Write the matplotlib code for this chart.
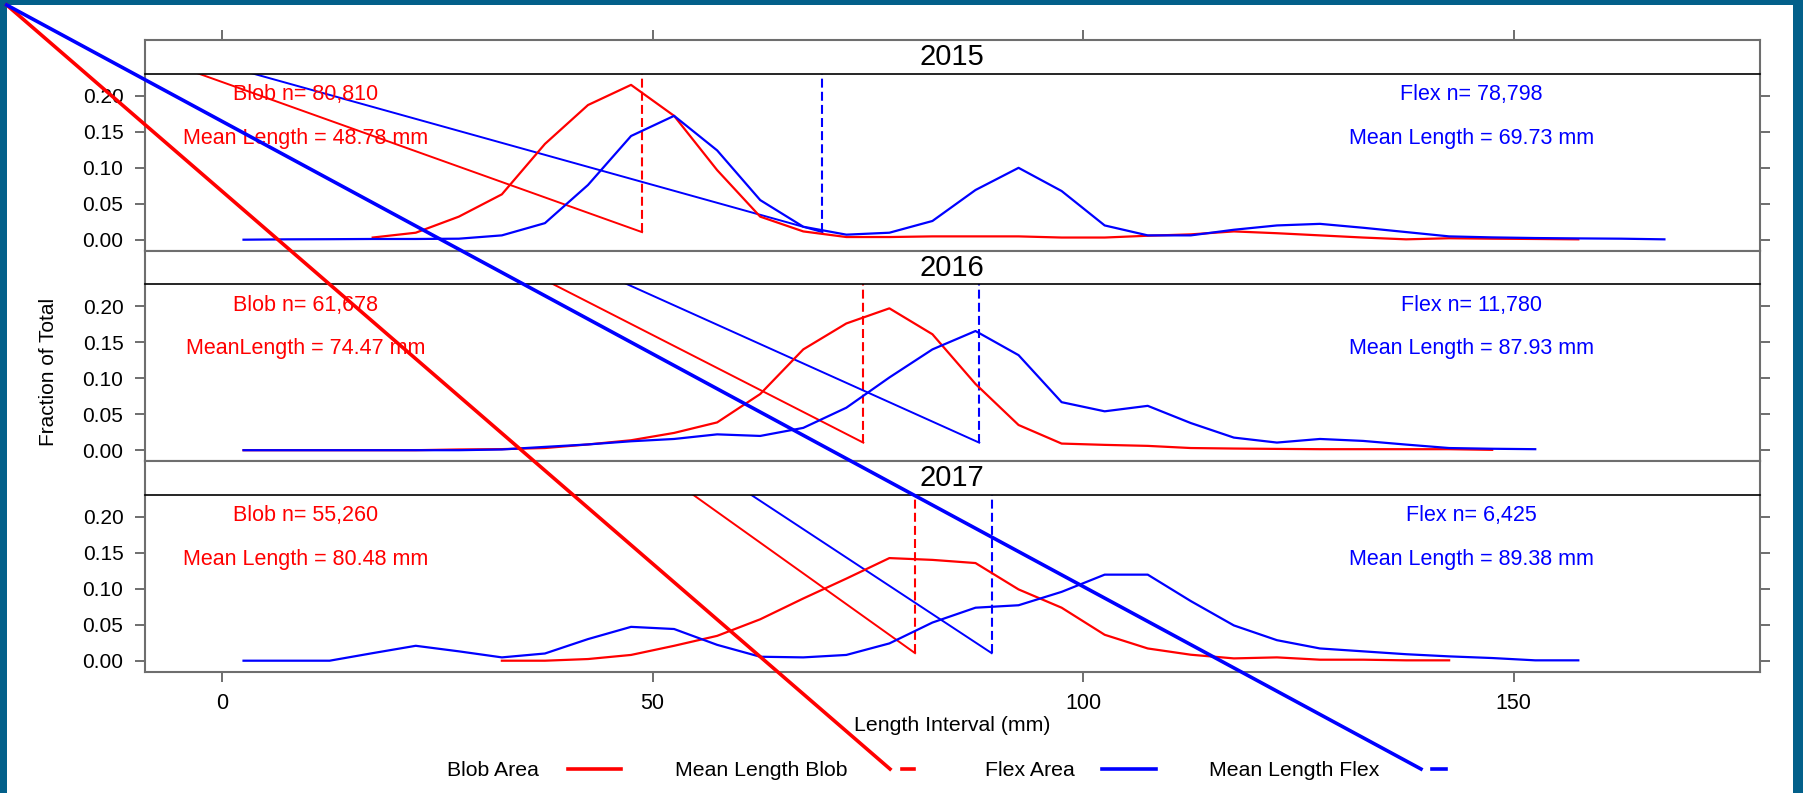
import matplotlib
matplotlib.use("Agg")
import matplotlib.pyplot as plt
from matplotlib.lines import Line2D
from matplotlib.patches import Rectangle
import numpy as np

plt.rcParams['font.family'] = ['Liberation Sans', 'DejaVu Sans']

# length-interval midpoints (mm)
bins = np.arange(2.5, 170, 5)

years = ['2015', '2016', '2017']

# fraction of total per 5 mm interval, first value sits at the given start midpoint
blob_start = [17.5, 2.5, 32.5]
blob_2015 = [0.003, 0.0097, 0.032, 0.063, 0.133, 0.187, 0.215, 0.172, 0.0966, 0.032,
             0.0115, 0.0037, 0.0037, 0.0046, 0.0046, 0.0046, 0.003, 0.003, 0.0055, 0.0074,
             0.0115, 0.009, 0.006, 0.003, 0.0005, 0.002, 0.0014, 0.001, 0.0005]
blob_2016 = [0, 0, 0, 0, 0, 0.001, 0.0015, 0.003, 0.008, 0.0138,
             0.024, 0.0386, 0.078, 0.14, 0.176, 0.197, 0.161, 0.092, 0.035, 0.0092,
             0.0074, 0.006, 0.003, 0.0023, 0.0018, 0.0014, 0.0014, 0.0014, 0.0014, 0.0005]
blob_2017 = [0, 0, 0.0023, 0.008, 0.0207, 0.0345, 0.0575, 0.0864, 0.114, 0.1425,
             0.140, 0.1356, 0.099, 0.0736, 0.036, 0.017, 0.0083, 0.0032, 0.0046, 0.0014,
             0.0014, 0.0005, 0.0005]

flex_start = [2.5, 2.5, 2.5]
flex_2015 = [0, 0.0005, 0.0007, 0.001, 0.001, 0.0014, 0.006, 0.023, 0.076, 0.144,
             0.172, 0.124, 0.055, 0.018, 0.007, 0.0097, 0.026, 0.069, 0.0998, 0.0676,
             0.0198, 0.006, 0.006, 0.0138, 0.0198, 0.022, 0.0166, 0.0106, 0.0046, 0.0032,
             0.0023, 0.0018, 0.0014, 0.0005]
flex_2016 = [0, 0, 0, 0, 0, 0, 0.001, 0.0046, 0.008, 0.0124,
             0.0156, 0.022, 0.0198, 0.031, 0.059, 0.101, 0.14, 0.1655, 0.132, 0.0667,
             0.054, 0.0616, 0.0377, 0.0175, 0.0106, 0.0156, 0.0129, 0.0078, 0.003, 0.002,
             0.0014]
flex_2017 = [0, 0, 0, 0.0105, 0.0207, 0.013, 0.0046, 0.010, 0.030, 0.047,
             0.044, 0.022, 0.0055, 0.0046, 0.008, 0.024, 0.053, 0.0736, 0.077, 0.0956,
             0.1195, 0.1195, 0.0828, 0.049, 0.0285, 0.017, 0.013, 0.009, 0.006, 0.0037,
             0.0005, 0.0005]

blob_series = [blob_2015, blob_2016, blob_2017]
flex_series = [flex_2015, flex_2016, flex_2017]

blob_mean = [48.78, 74.47, 80.48]
flex_mean = [69.73, 87.93, 89.38]
blob_n = ['80,810', '61,678', '55,260']
flex_n = ['78,798', '11,780', '6,425']
blob_mean_label = ['Mean Length = 48.78 mm', 'MeanLength = 74.47 mm', 'Mean Length = 80.48 mm']
flex_mean_label = ['Mean Length = 69.73 mm', 'Mean Length = 87.93 mm', 'Mean Length = 89.38 mm']

legend_labels = ['Blob Area', 'Mean Length Blob', 'Flex Area', 'Mean Length Flex']

MEAN_BASE = 0.0105   # lower end of the mean-length marker
XLIM = (-9.0, 178.6)
YLIM = (-0.015, 0.2308)

# page geometry in pixels (origin top-left)
W, H = 1803, 793
X0, X1 = 144.5, 1760
BLOCK_TOP, BLOCK_H, STRIP_H = 40, 210.5, 33.5
CORNER = (6.7, 5)
FRAME = '#6e6e6e'
TICK = '#555555'


def fig_box(x0, top, x1, bottom):
    return [x0 / W, 1 - bottom / H, (x1 - x0) / W, (bottom - top) / H]


def fig_pt(x, y):
    return x / W, 1 - y / H


fig = plt.figure(figsize=(W / 100, H / 100), dpi=100, facecolor='#03608a')
fig.add_artist(Rectangle((CORNER[0] / W, 0), (1793 - CORNER[0]) / W, 1 - CORNER[1] / H,
                         transform=fig.transFigure, facecolor='white', edgecolor='none', zorder=-5))

for i, year in enumerate(years):
    top = BLOCK_TOP + i * BLOCK_H
    strip = fig.add_axes(fig_box(X0, top, X1, top + STRIP_H))
    ax = fig.add_axes(fig_box(X0, top + STRIP_H, X1, top + BLOCK_H))

    # strip with the year
    strip.set_xlim(XLIM)
    strip.set_ylim(0, 1)
    strip.set_yticks([])
    strip.text(0.5, 0.48, year, transform=strip.transAxes, ha='center', va='center', fontsize=21)
    for side, sp in strip.spines.items():
        sp.set_color(FRAME)
        sp.set_linewidth(1.5)
    strip.spines['bottom'].set_visible(False)
    if i == 0:
        strip.set_xticks([0, 50, 100, 150])
        strip.tick_params(axis='x', top=True, bottom=False, labeltop=False, labelbottom=False,
                          direction='out', length=7.2, width=1.2, color=TICK)
    else:
        strip.set_xticks([])

    # distributions
    ax.set_xlim(XLIM)
    ax.set_ylim(YLIM)

    xb = bins[(bins >= blob_start[i])][:len(blob_series[i])]
    xf = bins[(bins >= flex_start[i])][:len(flex_series[i])]

    ax.plot([blob_mean[i], blob_mean[i]], [MEAN_BASE, 0.3], color='red', lw=1.5,
            linestyle=(0, (4.3, 2)))
    ax.plot([flex_mean[i], flex_mean[i]], [MEAN_BASE, 0.3], color='blue', lw=1.5,
            linestyle=(0, (4.3, 2)))

    # stray segments from the device corner to the marker bases
    corner = ax.transData.inverted().transform((CORNER[0], H - CORNER[1]))
    ax.plot([corner[0], blob_mean[i]], [corner[1], MEAN_BASE], color='red', lw=1.4)
    ax.plot([corner[0], flex_mean[i]], [corner[1], MEAN_BASE], color='blue', lw=1.4)

    ax.plot(xb, blob_series[i], color='red', lw=1.6)
    ax.plot(xf, flex_series[i], color='blue', lw=1.6)

    ax.text(9.7, 0.1935, 'Blob n= ' + blob_n[i], color='red', ha='center', va='baseline', fontsize=15.5)
    ax.text(9.7, 0.1333, blob_mean_label[i], color='red', ha='center', va='baseline', fontsize=15.5)
    ax.text(145.1, 0.1935, 'Flex n= ' + flex_n[i], color='blue', ha='center', va='baseline', fontsize=15.5)
    ax.text(145.1, 0.1333, flex_mean_label[i], color='blue', ha='center', va='baseline', fontsize=15.5)

    ax.set_yticks([0, 0.05, 0.10, 0.15, 0.20])
    ax.set_yticklabels(['0.00', '0.05', '0.10', '0.15', '0.20'])
    ax.tick_params(axis='y', left=True, right=True, labelleft=True, labelright=False,
                   direction='out', length=7.2, width=1.2, color=TICK, labelsize=15, pad=8)
    if i == len(years) - 1:
        ax.set_xticks([0, 50, 100, 150])
        ax.set_xticklabels(['0', '50', '100', '150'])
        ax.tick_params(axis='x', bottom=True, top=False, direction='out', length=7.2, width=1.2,
                       color=TICK, labelsize=15.5, pad=8)
    else:
        ax.set_xticks([])
    for side, sp in ax.spines.items():
        sp.set_color(FRAME)
        sp.set_linewidth(1.5)
    ax.spines['top'].set_color('black')
    ax.spines['top'].set_linewidth(1.2)

fig.text(48.5 / W, 1 - 372 / H, 'Fraction of Total', rotation=90, ha='center', va='center', fontsize=15)
fig.text(952 / W, 1 - 725.5 / H, 'Length Interval (mm)', ha='center', va='center', fontsize=15.3)

# legend row
leg_y = 769
for label, x in zip(legend_labels, [447, 675, 985, 1209]):
    fig.text(x / W, 1 - 771 / H, label, ha='left', va='center', fontsize=15.3)
for color, (a, b) in [('red', (568, 621)), ('blue', (1102, 1156))]:
    fig.add_artist(Line2D([a / W, b / W], [1 - leg_y / H] * 2, transform=fig.transFigure,
                          color=color, lw=2.6))
for color, (a, b) in [('red', (902, 914)), ('blue', (1432, 1446))]:
    fig.add_artist(Line2D([a / W, b / W], [1 - leg_y / H] * 2, transform=fig.transFigure,
                          color=color, lw=2.6))
# dashed keys start with a segment drawn from the device corner
for color, end in [('red', 890), ('blue', 1421)]:
    p0 = fig_pt(*CORNER)
    p1 = fig_pt(end, leg_y)
    fig.add_artist(Line2D([p0[0], p1[0]], [p0[1], p1[1]], transform=fig.transFigure,
                          color=color, lw=2.6, zorder=10))

fig.savefig('out.png', dpi=100, facecolor=fig.get_facecolor())
